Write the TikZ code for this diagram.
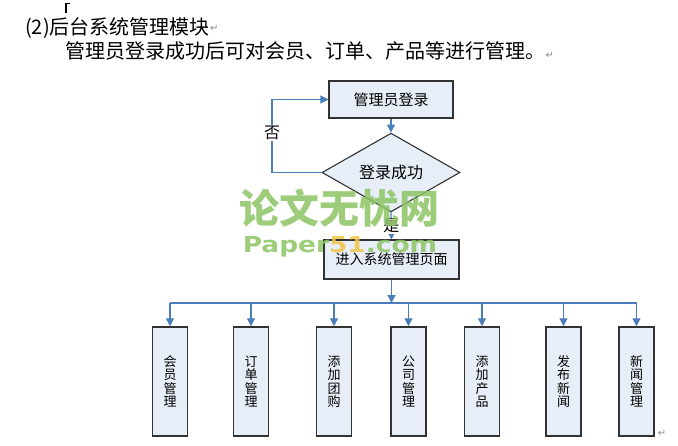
\documentclass[tikz,border=0pt]{standalone}
\usepackage{fontspec}
\newfontfamily\cjk{Noto Sans CJK SC}
\newfontfamily\dejavu{DejaVu Sans}
\usetikzlibrary{shapes.geometric,arrows.meta}
\definecolor{arrowblue}{RGB}{74,126,187}
\definecolor{boxfill}{RGB}{232,238,247}
\definecolor{boxline}{RGB}{50,50,50}
\definecolor{wmgreen}{RGB}{140,196,100}
\definecolor{wmyellow}{RGB}{240,196,70}
\tikzset{
  conn/.style={draw=arrowblue, line width=1.2pt},
  arr/.style={conn, -{Triangle[length=8pt,width=8pt]}},
  mainbox/.style={draw=boxline, fill=boxfill, line width=1.1pt, inner sep=0pt, font=\cjk\fontsize{15}{18}\selectfont},
  decision/.style={diamond, draw=boxline, fill=boxfill, line width=1.1pt, inner sep=0pt, minimum width=138pt, minimum height=41pt, font=\cjk\fontsize{16}{18}\selectfont},
  modbox/.style={draw=boxline, fill=boxfill, line width=1.5pt, inner sep=0pt, minimum width=35pt, minimum height=109pt, align=center, font=\cjk\fontsize{13}{13.4}\selectfont},
  lbl/.style={fill=white, inner sep=1pt, font=\cjk\fontsize{16}{18}\selectfont},
  para/.style={font=\dejavu\fontsize{10}{10}\selectfont, text=black!45, inner sep=0pt},
  headtext/.style={anchor=west, inner sep=0pt, font=\cjk\fontsize{20}{24}\selectfont}
}
\begin{document}
\begin{tikzpicture}[x=1pt,y=-1pt]
\useasboundingbox (0,0) rectangle (678,445);
% cursor
\draw[line width=1.6pt] (66,3) -- (66,13);
\draw[line width=0.8pt] (66,3) -- (70,3);
% header text
\node[headtext] (h1) at (25,28) {(2)后台系统管理模块};
\node[para, anchor=west] (p1) at (h1.east) {↵};
\node[headtext] (h2) at (65,51) {管理员登录成功后可对会员、订单、产品等进行管理。};
\node[para, anchor=west] (p2) at ([yshift=-4pt]h2.east) {↵};

% flowchart
\node[mainbox, minimum width=124pt, minimum height=37pt] (login) at (391,99.5) {管理员登录};
\node[decision] (dia) at (391,172.5) {登录成功};
\node[mainbox, minimum width=135pt, minimum height=39pt, font=\cjk\fontsize{14}{16}\selectfont] (enter) at (391.5,259.5) {进入系统管理页面};

\draw[arr] (login.south) -- (dia.north);
\coordinate (lp) at (272,172.5);
\draw[arr] (dia.west) -- (lp) |- node[lbl, pos=0.27] {否} (login.west);
\draw[arr] (dia.south) -- node[lbl, pos=0.5] {是} (enter.north);

\coordinate (bus) at (391.5,303);
\draw[arr] (enter.south) -- (bus);

\node[modbox] (m1) at (170,381.5) {会\\员\\管\\理};
\node[modbox] (m2) at (251,381.5) {订\\单\\管\\理};
\node[modbox] (m3) at (334,381.5) {添\\加\\团\\购};
\node[modbox] (m4) at (408.5,381.5) {公\\司\\管\\理};
\node[modbox] (m5) at (482,381.5) {添\\加\\产\\品};
\node[modbox] (m6) at (563.5,381.5) {发\\布\\新\\闻};
\node[modbox] (m7) at (636.5,381.5) {新\\闻\\管\\理};
\node[para, anchor=south west] (p3) at ([xshift=3pt]m7.south east) {↵};

\coordinate (busL) at (170,303);
\coordinate (busR) at (636.5,303);
\draw[conn] (busL) -- (busR);
\foreach \m in {m1,m2,m3,m4,m5,m6,m7}{
  \draw[arr] (\m.north |- bus) -- (\m.north);
}

% watermark
\begin{scope}[opacity=0.85]
\node[inner sep=0pt, text=wmgreen, font=\cjk\bfseries\fontsize{40}{40}\selectfont] (wm1) at (339,208) {论文无忧网};
\node[inner sep=0pt, xscale=1.2, font=\dejavu\bfseries\fontsize{22}{22}\selectfont] (wm2) at (340,247)
  {\textcolor{wmgreen}{Paper}\textcolor{wmyellow}{51}\textcolor{wmgreen}{.com}};
\end{scope}
\end{tikzpicture}
\end{document}
